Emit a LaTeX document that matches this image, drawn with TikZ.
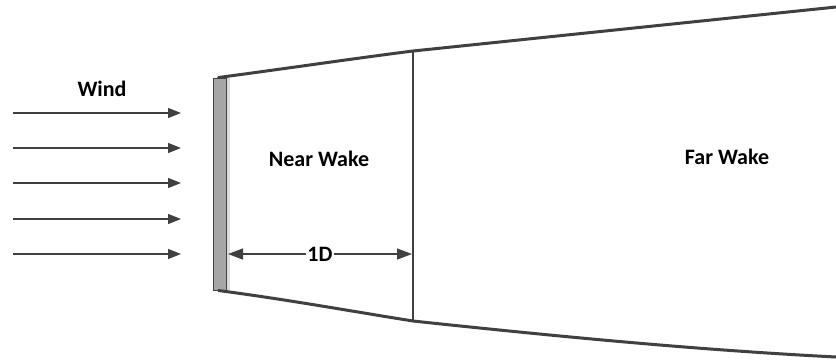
\documentclass[tikz,border=0pt]{standalone}
\usepackage{fontspec}
\setmainfont{Carlito}
\usetikzlibrary{
    arrows.meta,
    positioning
}
\definecolor{LineGray}{RGB}{64,64,64}
\definecolor{RotorGray}{RGB}{166,166,166}
\definecolor{ShadeGray}{RGB}{220,220,220}
\tikzset{
  windarr/.style = {-{Triangle[length=13pt,width=10pt]}, LineGray, line width=1.3pt},
  dimarr/.style  = {{Triangle[length=15pt,width=11pt]}-{Triangle[length=15pt,width=11pt]},
                    LineGray, line width=1.3pt},
  wake/.style    = {LineGray, line width=3pt, line cap=round},
  txt/.style     = {font=\bfseries\fontsize{22}{26}\selectfont, text=black}
}

\begin{document}
\begin{tikzpicture}[x=1pt,y=-1pt]
\useasboundingbox (0,0) rectangle (836,360);
% rotor disc
\node[draw=LineGray, fill=RotorGray, line width=1pt, inner sep=0pt,
      minimum width=13pt, minimum height=212pt] (rotor) at (219.5,184) {};
\fill[ShadeGray] ([xshift=0.5pt]rotor.north east) rectangle ([xshift=3.5pt]rotor.south east);
% wake boundary
\coordinate (topMid) at (413,51);
\coordinate (topEnd) at (836,7);
\coordinate (botMid) at (413,321);
\coordinate (botEnd) at (836,357);
\draw[wake] ([xshift=-1pt]rotor.north) .. controls (290,68) and (350,59) .. (topMid) -- (topEnd);
\draw[wake] ([xshift=-1pt]rotor.south) .. controls (290,300) and (350,311) .. (botMid)
      .. controls (600,341) and (720,351) .. (botEnd);
\draw[LineGray, line width=1.3pt] (topMid) -- (botMid);
% incoming wind
\coordinate (w1s) at (13,113);  \coordinate (w1e) at (181,113);
\coordinate (w2s) at (13,148);  \coordinate (w2e) at (181,148);
\coordinate (w3s) at (13,183);  \coordinate (w3e) at (181,183);
\coordinate (w4s) at (13,219);  \coordinate (w4e) at (181,219);
\coordinate (w5s) at (13,254);  \coordinate (w5e) at (181,254);
\draw[windarr] (w1s) -- (w1e);
\draw[windarr] (w2s) -- (w2e);
\draw[windarr] (w3s) -- (w3e);
\draw[windarr] (w4s) -- (w4e);
\draw[windarr] (w5s) -- (w5e);
\node[txt] (wind) at (102,89) {Wind};
% regions
\node[txt] (near) at (319,159) {Near Wake};
\node[txt] (far) at (727,157) {Far Wake};
% one diameter
\coordinate (dimL) at (228,254);
\coordinate (dimR) at (412,254);
\draw[dimarr] (dimL) -- (dimR)
      node[midway, fill=white, inner sep=1pt, txt] (oneD) {1D};
\end{tikzpicture}
\end{document}
